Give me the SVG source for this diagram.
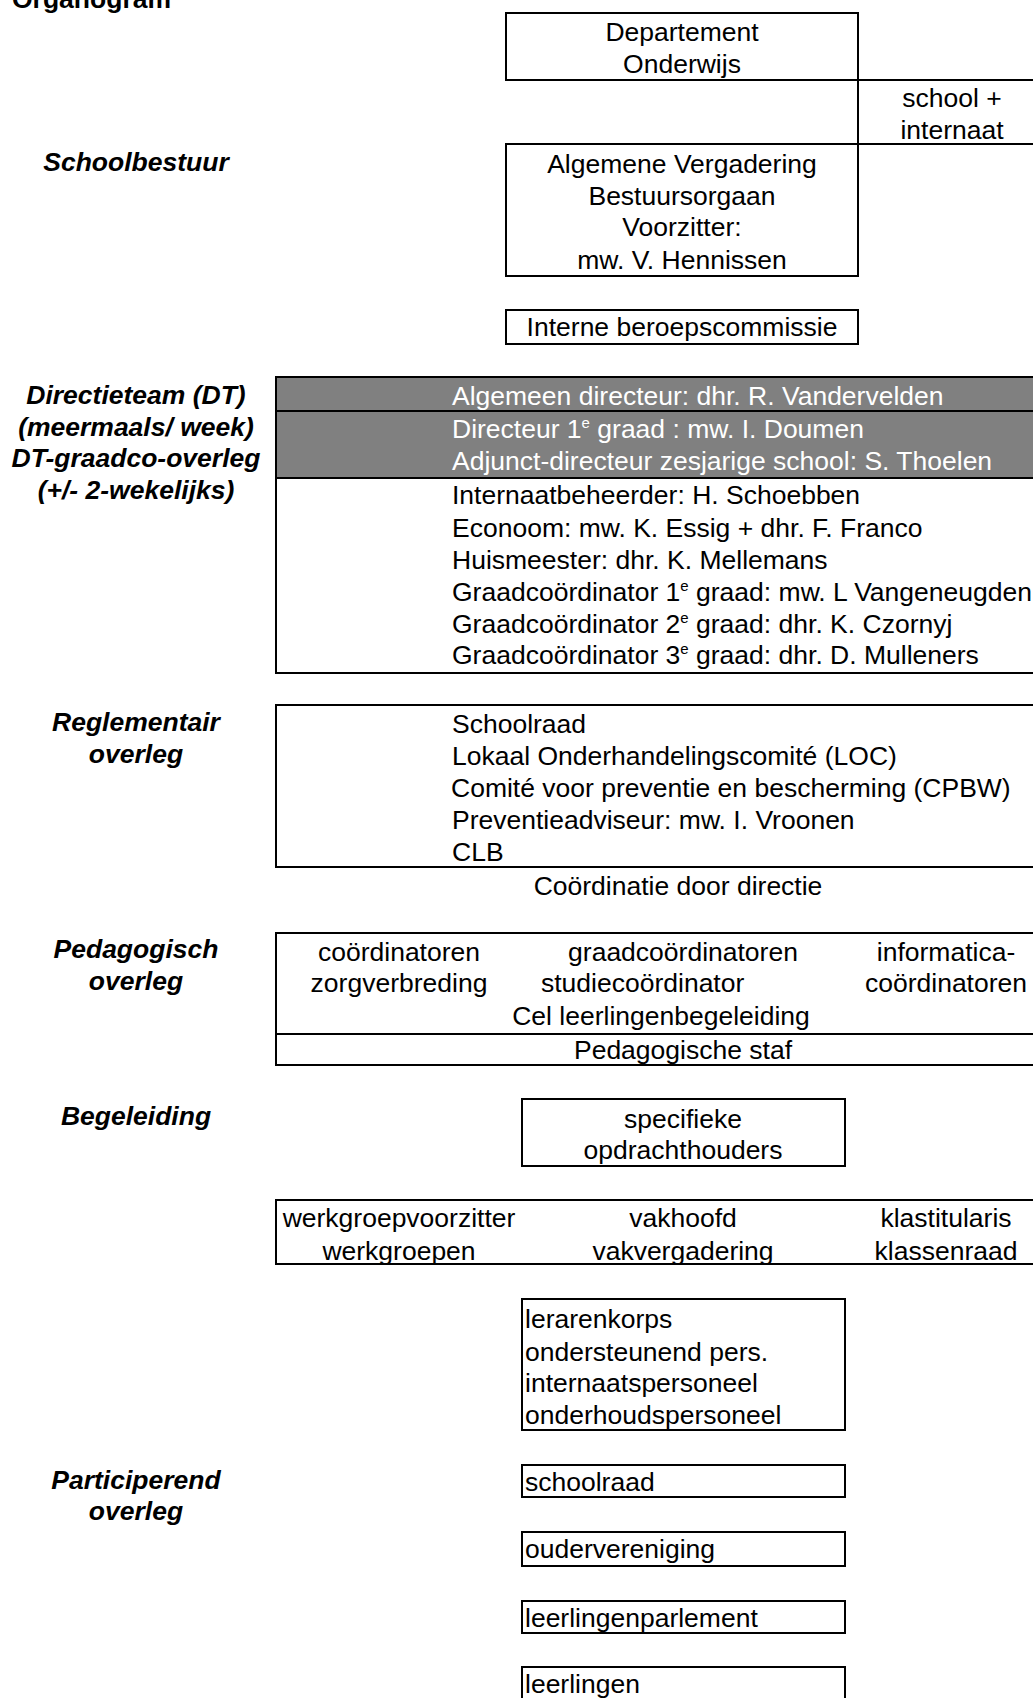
<svg xmlns="http://www.w3.org/2000/svg" width="1033" height="1698" viewBox="0 0 1033 1698">
<style>
text { font-family: "Liberation Sans", Arial, sans-serif; font-size: 26.5px; fill: #000; }
.c { text-anchor: middle; }
.lbl { font-weight: bold; font-style: italic; text-anchor: middle; }
.w { fill: #ffffff; }
.box { fill: #ffffff; stroke: #000; stroke-width: 2; }
.gray { fill: #808080; stroke: #000; stroke-width: 2; }
.ln { fill: none; stroke: #000; stroke-width: 2; }
.sup { font-size: 15px; }
</style>
<rect x="0" y="0" width="1033" height="1698" fill="#ffffff"/>

<g id="title"><text x="12" y="8" font-weight="bold">Organogram</text></g>

<g id="labels">
<text class="lbl" x="136" y="171">Schoolbestuur</text>
<text class="lbl" x="136" y="404">Directieteam (DT)</text>
<text class="lbl" x="136" y="436">(meermaals/ week)</text>
<text class="lbl" x="136" y="467">DT-graadco-overleg</text>
<text class="lbl" x="136" y="499">(+/- 2-wekelijks)</text>
<text class="lbl" x="136" y="731">Reglementair</text>
<text class="lbl" x="136" y="763">overleg</text>
<text class="lbl" x="136" y="958">Pedagogisch</text>
<text class="lbl" x="136" y="990">overleg</text>
<text class="lbl" x="136" y="1125">Begeleiding</text>
<text class="lbl" x="136" y="1489">Participerend</text>
<text class="lbl" x="136" y="1520">overleg</text>
</g>

<g id="departement">
<rect class="box" x="506" y="13" width="352" height="67"/>
<text class="c" x="682" y="40.5">Departement</text>
<text class="c" x="682" y="73">Onderwijs</text>
</g>

<g id="school-internaat">
<text class="c" x="952" y="107">school +</text>
<text class="c" x="952" y="138.5">internaat</text>
</g>

<g id="algemene-vergadering">
<rect class="box" x="506" y="144" width="352" height="132"/>
<text class="c" x="682" y="173">Algemene Vergadering</text>
<text class="c" x="682" y="205">Bestuursorgaan</text>
<text class="c" x="682" y="236">Voorzitter:</text>
<text class="c" x="682" y="268.5">mw. V. Hennissen</text>
</g>

<g id="connectors">
<path class="ln" d="M858 80 H1040 M858 80 V144 M858 144 H1040"/>
</g>

<g id="beroepscommissie">
<rect class="box" x="506" y="310" width="352" height="34"/>
<text class="c" x="682" y="336">Interne beroepscommissie</text>
</g>

<g id="directieteam">
<rect class="box" x="276" y="377" width="770" height="296"/>
<rect class="gray" x="276" y="377" width="770" height="34"/>
<rect class="gray" x="276" y="411" width="770" height="67"/>
<text class="w" x="452" y="405">Algemeen directeur: dhr. R. Vandervelden</text>
<text class="w" x="452" y="438">Directeur 1<tspan class="sup" dy="-10">e</tspan><tspan dy="10"> graad : mw. I. Doumen</tspan></text>
<text class="w" x="452" y="469.5">Adjunct-directeur zesjarige school: S. Thoelen</text>
<text x="452" y="504">Internaatbeheerder: H. Schoebben</text>
<text x="452" y="537">Econoom: mw. K. Essig + dhr. F. Franco</text>
<text x="452" y="568.5">Huismeester: dhr. K. Mellemans</text>
<text x="452" y="601">Graadcoördinator 1<tspan class="sup" dy="-10">e</tspan><tspan dy="10"> graad: mw. L Vangeneugden</tspan></text>
<text x="452" y="632.5">Graadcoördinator 2<tspan class="sup" dy="-10">e</tspan><tspan dy="10"> graad: dhr. K. Czornyj</tspan></text>
<text x="452" y="664">Graadcoördinator 3<tspan class="sup" dy="-10">e</tspan><tspan dy="10"> graad: dhr. D. Mulleners</tspan></text>
</g>

<g id="reglementair">
<rect class="box" x="276" y="705" width="770" height="162"/>
<text x="452" y="733">Schoolraad</text>
<text x="452" y="765">Lokaal Onderhandelingscomité (LOC)</text>
<text x="451" y="797">Comité voor preventie en bescherming (CPBW)</text>
<text x="452" y="829">Preventieadviseur: mw. I. Vroonen</text>
<text x="452" y="861">CLB</text>
</g>

<g id="coordinatie"><text class="c" x="678" y="895">Coördinatie door directie</text></g>

<g id="pedagogisch">
<rect class="box" x="276" y="933" width="770" height="132"/>
<path class="ln" d="M276 1034 H1046"/>
<text class="c" x="399" y="961">coördinatoren</text>
<text class="c" x="399" y="991.5">zorgverbreding</text>
<text class="c" x="683" y="961">graadcoördinatoren</text>
<text x="541" y="991.5">studiecoördinator</text>
<text class="c" x="661" y="1025">Cel leerlingenbegeleiding</text>
<text class="c" x="946" y="961">informatica-</text>
<text class="c" x="946" y="991.5">coördinatoren</text>
<text class="c" x="683" y="1059">Pedagogische staf</text>
</g>

<g id="opdrachthouders">
<rect class="box" x="522" y="1099" width="323" height="67"/>
<text class="c" x="683" y="1127.5">specifieke</text>
<text class="c" x="683" y="1159">opdrachthouders</text>
</g>

<g id="werkgroepen">
<rect class="box" x="276" y="1200" width="770" height="64"/>
<text class="c" x="399" y="1226.5">werkgroepvoorzitter</text>
<text class="c" x="399" y="1260">werkgroepen</text>
<text class="c" x="683" y="1226.5">vakhoofd</text>
<text class="c" x="683" y="1260">vakvergadering</text>
<text class="c" x="946" y="1226.5">klastitularis</text>
<text class="c" x="946" y="1260">klassenraad</text>
</g>

<g id="personeel">
<rect class="box" x="522" y="1299" width="323" height="131"/>
<text x="525" y="1328">lerarenkorps</text>
<text x="525" y="1360.5">ondersteunend pers.</text>
<text x="525" y="1392">internaatspersoneel</text>
<text x="525" y="1424">onderhoudspersoneel</text>
</g>

<g id="schoolraad">
<rect class="box" x="522" y="1465" width="323" height="32"/>
<text x="525" y="1491">schoolraad</text>
</g>

<g id="oudervereniging">
<rect class="box" x="522" y="1532" width="323" height="34"/>
<text x="525" y="1558">oudervereniging</text>
</g>

<g id="leerlingenparlement">
<rect class="box" x="522" y="1601" width="323" height="32"/>
<text x="525" y="1626.5">leerlingenparlement</text>
</g>

<g id="leerlingen">
<rect class="box" x="522" y="1667" width="323" height="40"/>
<text x="525" y="1693">leerlingen</text>
</g>
</svg>
